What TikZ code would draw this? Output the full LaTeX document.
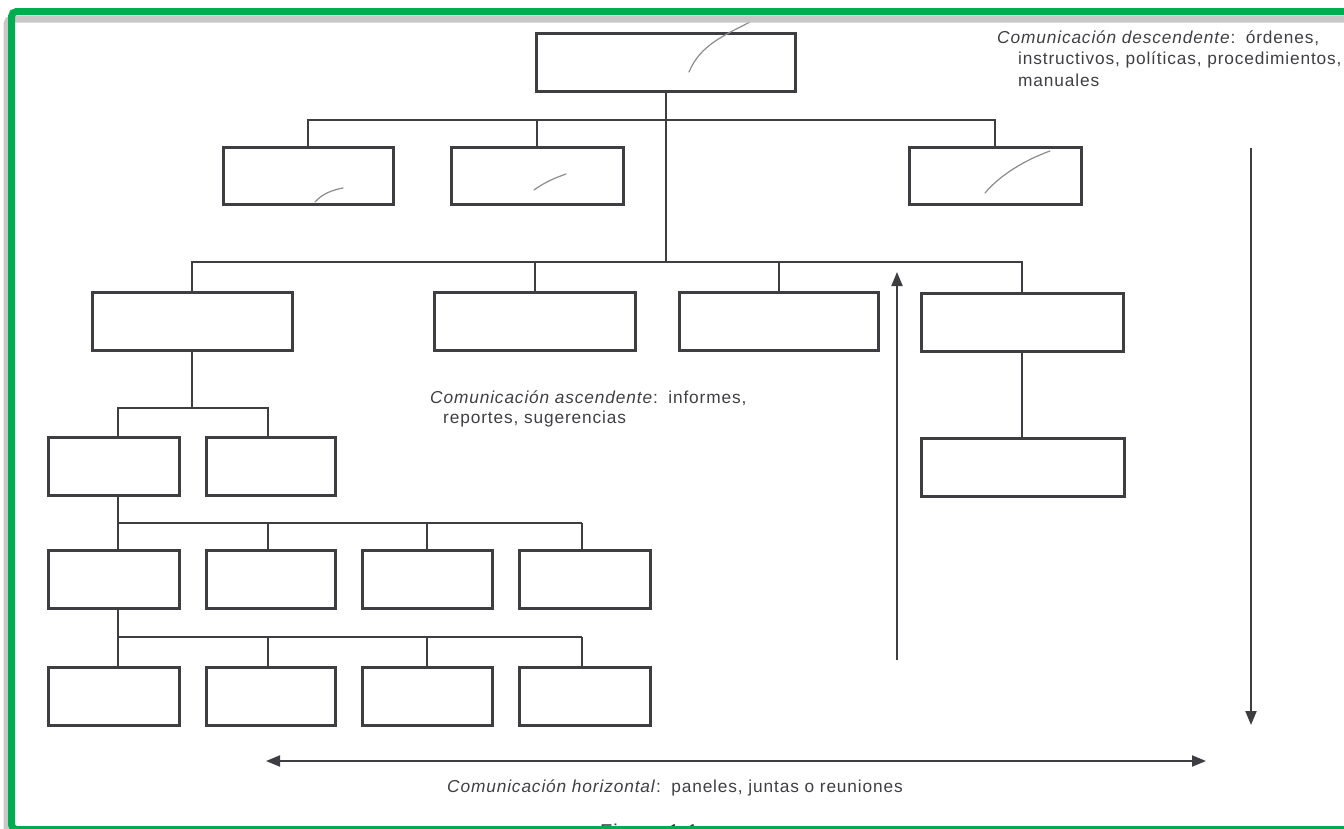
\documentclass[tikz,border=0pt]{standalone}
\usepackage{fontspec}
\setmainfont{Liberation Sans}
\newfontfamily\labfont{Liberation Sans}[LetterSpace=5]
\usetikzlibrary{arrows.meta}
\definecolor{frameGreen}{RGB}{0,172,80}
\definecolor{ink}{RGB}{62,62,66}
\definecolor{txt}{RGB}{64,64,68}
\definecolor{pencil}{RGB}{140,140,140}
\begin{document}
\begin{tikzpicture}[x=1pt,y=-1pt,
  box/.style={draw=ink,line width=3pt,fill=white,inner sep=0pt,minimum height=58pt},
  conn/.style={draw=ink,line width=2pt},
  arr/.style={draw=ink,line width=2pt,-{Triangle[length=14pt,width=11pt]}},
  darr/.style={draw=ink,line width=2pt,{Triangle[length=14pt,width=11pt]}-{Triangle[length=14pt,width=11pt]}},
  lab/.style={anchor=base west,inner sep=0pt,text=txt,font=\labfont\fontsize{17.3}{20}\selectfont},
  pencilmark/.style={draw=pencil,line width=1.2pt,line cap=round}]
\useasboundingbox (0,0) rectangle (1344,828);
\clip (0,0) rectangle (1344,828);
\fill[white] (0,0) rectangle (1344,828);

% bus levels and drop positions
\coordinate (b2) at (0,120);
\coordinate (b3) at (0,262);
\coordinate (b4) at (0,408);
\coordinate (b5) at (0,523);
\coordinate (b6) at (0,637);
\coordinate (xL) at (118,0);
\coordinate (xJ) at (268,0);
\coordinate (xM) at (427,0);
\coordinate (xN) at (582,0);

% boxes
\node[box,minimum width=259pt] (top) at (665.5,62) {};
\node[box,minimum width=170pt,minimum height=57pt] (A) at (308,175.5) {};
\node[box,minimum width=172pt,minimum height=57pt] (B) at (537,175.5) {};
\node[box,minimum width=172pt,minimum height=57pt] (C) at (995,175.5) {};
\node[box,minimum width=200pt] (D) at (192,321) {};
\node[box,minimum width=201pt] (E) at (534.5,321) {};
\node[box,minimum width=199pt] (F) at (778.5,321) {};
\node[box,minimum width=202pt] (G) at (1022,322) {};
\node[box,minimum width=203pt] (H) at (1022.5,467) {};
\node[box,minimum width=131pt] (I) at (113.5,466) {};
\node[box,minimum width=129pt] (J) at (270.5,466) {};
\node[box,minimum width=131pt] (K) at (113.5,579) {};
\node[box,minimum width=129pt] (L) at (270.5,579) {};
\node[box,minimum width=130pt] (M) at (427,579) {};
\node[box,minimum width=131pt] (N) at (584.5,579) {};
\node[box,minimum width=131pt] (P) at (113.5,696) {};
\node[box,minimum width=129pt] (Q) at (270.5,696) {};
\node[box,minimum width=130pt] (R) at (427,696) {};
\node[box,minimum width=131pt] (S) at (584.5,696) {};

% connectors
\draw[conn] (top.south) -- (top.south |- b3);
\draw[conn] (A.north) |- (C.north |- b2) -- (C.north);
\draw[conn] (B.north) -- (B.north |- b2);
\draw[conn] (D.north) |- (G.north |- b3) -- (G.north);
\draw[conn] (E.north) -- (E.north |- b3);
\draw[conn] (F.north) -- (F.north |- b3);
\draw[conn] (G.south) -- (G.south |- H.north);
\draw[conn] (D.south) -- (D.south |- b4);
\draw[conn] (I.north -| xL) -- (xL |- b4) -- (xJ |- b4) -- (J.north -| xJ);
\draw[conn] (I.south -| xL) -- (K.north -| xL);
\draw[conn] (K.south -| xL) -- (P.north -| xL);
\draw[conn] (xL |- b5) -- (xN |- b5);
\draw[conn] (xJ |- b5) -- (L.north -| xJ);
\draw[conn] (xM |- b5) -- (M.north -| xM);
\draw[conn] (xN |- b5) -- (N.north -| xN);
\draw[conn] (xL |- b6) -- (xN |- b6);
\draw[conn] (xJ |- b6) -- (Q.north -| xJ);
\draw[conn] (xM |- b6) -- (R.north -| xM);
\draw[conn] (xN |- b6) -- (S.north -| xN);

% pencil marks
\draw[pencilmark] (689,72) .. controls (700,45) and (725,35) .. (750,22);
\draw[pencilmark] (315,202) .. controls (322,194) and (332,190) .. (343,188);
\draw[pencilmark] (534,190) .. controls (545,182) and (555,178) .. (566,174);
\draw[pencilmark] (985,193) .. controls (1000,175) and (1025,160) .. (1050,151);

% communication arrows
\coordinate (upA) at (897,660);
\coordinate (upB) at (897,272);
\coordinate (dnA) at (1251,148);
\coordinate (dnB) at (1251,725);
\coordinate (hL) at (266,761);
\coordinate (hR) at (1206,761);
\draw[arr] (upA) -- (upB);
\draw[arr] (dnA) -- (dnB);
\draw[darr] (hL) -- (hR);

% labels
\node[lab] (d1) at (997,43) {\textit{Comunicación descendente}:\, órdenes,};
\node[lab] (d2) at (1018,64) {instructivos, políticas, procedimientos,};
\node[lab] (d3) at (1018,86) {manuales};
\node[lab] (a1) at (430,403) {\textit{Comunicación ascendente}:\, informes,};
\node[lab] (a2) at (443,423) {reportes, sugerencias};
\node[lab] (h1) at (447,792) {\textit{Comunicación horizontal}:\, paneles, juntas o reuniones};
\node[lab,font=\labfont\fontsize{20}{24}\selectfont,text=ink] (fig) at (600,838) {Figura 1.1};

% frame
\draw[line width=7pt,black!22,rounded corners=5pt] (7,19) rectangle (1400,840);
\draw[line width=7pt,frameGreen,rounded corners=5pt] (11.5,11.5) rectangle (1400,829.5);
\end{tikzpicture}
\end{document}
